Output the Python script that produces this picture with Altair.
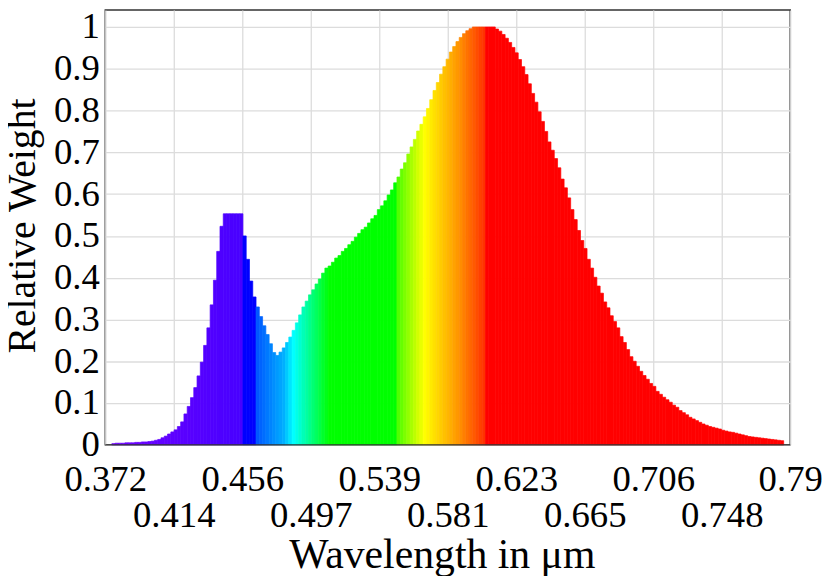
import altair as alt
import pandas as pd

# ---- data ----
# bars start at 0.376 um, each 0.002 um wide
wl_start = 0.376
wl_step = 0.002
weights = [
    0.003, 0.004, 0.004, 0.004, 0.005, 0.005, 0.005, 0.006, 0.006, 0.007,
    0.007, 0.008, 0.009, 0.011, 0.013, 0.017, 0.021, 0.026, 0.031, 0.036,
    0.044, 0.055, 0.074, 0.092, 0.113, 0.137, 0.165, 0.198, 0.238, 0.280,
    0.335, 0.394, 0.463, 0.523, 0.553, 0.553, 0.553, 0.553, 0.553, 0.553,
    0.500, 0.444, 0.392, 0.354, 0.330, 0.307, 0.285, 0.264, 0.242, 0.221,
    0.214, 0.222, 0.232, 0.245, 0.258, 0.274, 0.292, 0.311, 0.330, 0.344,
    0.359, 0.371, 0.385, 0.397, 0.411, 0.423, 0.428, 0.437, 0.447, 0.453,
    0.463, 0.470, 0.479, 0.487, 0.497, 0.506, 0.515, 0.521, 0.531, 0.541,
    0.549, 0.563, 0.572, 0.584, 0.598, 0.610, 0.627, 0.641, 0.660, 0.675,
    0.696, 0.713, 0.731, 0.751, 0.767, 0.785, 0.805, 0.826, 0.848, 0.867,
    0.887, 0.905, 0.923, 0.940, 0.953, 0.965, 0.975, 0.984, 0.991, 0.996,
    1.000, 1.000, 1.000, 1.000, 1.000, 1.000, 1.000, 0.995, 0.990, 0.982,
    0.973, 0.963, 0.951, 0.938, 0.922, 0.905, 0.886, 0.864, 0.841, 0.820,
    0.797, 0.774, 0.750, 0.725, 0.705, 0.685, 0.663, 0.636, 0.615, 0.591,
    0.563, 0.539, 0.513, 0.489, 0.470, 0.444, 0.423, 0.401, 0.380, 0.363,
    0.342, 0.328, 0.309, 0.295, 0.280, 0.259, 0.245, 0.228, 0.211, 0.200,
    0.188, 0.176, 0.166, 0.157, 0.147, 0.140, 0.128, 0.121, 0.114, 0.108,
    0.102, 0.095, 0.090, 0.082, 0.077, 0.072, 0.066, 0.062, 0.058, 0.054,
    0.050, 0.047, 0.044, 0.042, 0.040, 0.038, 0.035, 0.033, 0.031, 0.030,
    0.028, 0.026, 0.024, 0.022, 0.020, 0.019, 0.018, 0.017, 0.016, 0.015,
    0.014, 0.013, 0.012, 0.011, 0.010,
]

x_ticks = [0.372, 0.4138, 0.4556, 0.4974, 0.5392, 0.581, 0.6228, 0.6646, 0.7064, 0.7482, 0.79]
y_ticks = [0, 0.1, 0.2, 0.3, 0.4, 0.5, 0.6, 0.7, 0.8, 0.9, 1]

# spectrum colour stops (wavelength in um -> colour)
color_wl = [0.377, 0.455, 0.457, 0.463, 0.465, 0.481, 0.487, 0.509, 0.549, 0.551, 0.567, 0.587, 0.603, 0.605, 0.785]
color_hex = ["#7000ff", "#4800ff", "#0000ff", "#0000ff", "#0058ff", "#00b0ff", "#00ffff", "#00ff00",
             "#00ff00", "#50ff00", "#ffff00", "#ff9800", "#ff3400", "#ff0000", "#ff0000"]

df = pd.DataFrame({"w": weights})
df["i"] = range(len(weights))
df["wl0"] = wl_start + wl_step * df["i"]
df["wl1"] = df["wl0"] + wl_step
df["wlc"] = df["wl0"] + wl_step / 2
df["base"] = 0.0

FONT = "Liberation Serif"
W, H = 690, 438

x_axis = alt.Axis(
    values=x_ticks, format=".3~r",
    labelExpr="round((datum.value - 0.372) / 0.0418) % 2 == 1 ? ['', datum.label] : datum.label",
    labelFont=FONT, labelFontSize=37, labelColor="black",
    labelBaseline="alphabetic", labelPadding=46, labelLineHeight=36,
    labelOverlap=False, labelFlush=False,
    ticks=False, tickSize=0, domain=False,
    grid=True, gridColor="#dcdcdc", gridWidth=1.3,
    title="Wavelength in μm", titleFont=FONT, titleFontSize=42, titleFontWeight="normal",
    titleColor="black", titleX=339, titleY=124, titleBaseline="alphabetic", titleAlign="center",
)
y_axis = alt.Axis(
    values=y_ticks, format=".1~f",
    labelFont=FONT, labelFontSize=37, labelColor="black",
    labelBaseline="middle", labelPadding=6, labelOverlap=False, labelFlush=False,
    ticks=False, tickSize=0, domain=False,
    grid=True, gridColor="#dcdcdc", gridWidth=1.3,
    title="Relative Weight", titleFont=FONT, titleFontSize=40, titleFontWeight="normal",
    titleColor="black", titleAngle=270, titleX=-71, titleY=217,
    titleBaseline="alphabetic", titleAlign="center",
)

spec_scale = alt.Scale(domain=color_wl, range=color_hex, interpolate="rgb")

bars = alt.Chart(df).mark_rect(strokeWidth=0.7).encode(
    x=alt.X("wl0:Q", scale=alt.Scale(domain=[0.372, 0.79], nice=False, zero=False), axis=x_axis),
    x2="wl1:Q",
    y=alt.Y("w:Q", scale=alt.Scale(domain=[0, 1.0404], nice=False), axis=y_axis),
    y2="base:Q",
    color=alt.Color("wlc:Q", scale=spec_scale, legend=None),
    stroke=alt.Stroke("wlc:Q", scale=spec_scale, legend=None),
)

bottom = alt.Chart(pd.DataFrame({"a": [0]})).mark_rule(color="#333333", strokeWidth=1.5).encode(
    y=alt.datum(0)
)

chart = alt.layer(bars, bottom).properties(
    width=W, height=H,
    autosize=alt.AutoSizeParams(type="none"),
    padding={"left": 98, "top": 0, "right": 32, "bottom": 130},
).configure_view(stroke="#333333", strokeWidth=1.5)

chart.save("out.html", embed_options={"renderer": "svg", "actions": False})
